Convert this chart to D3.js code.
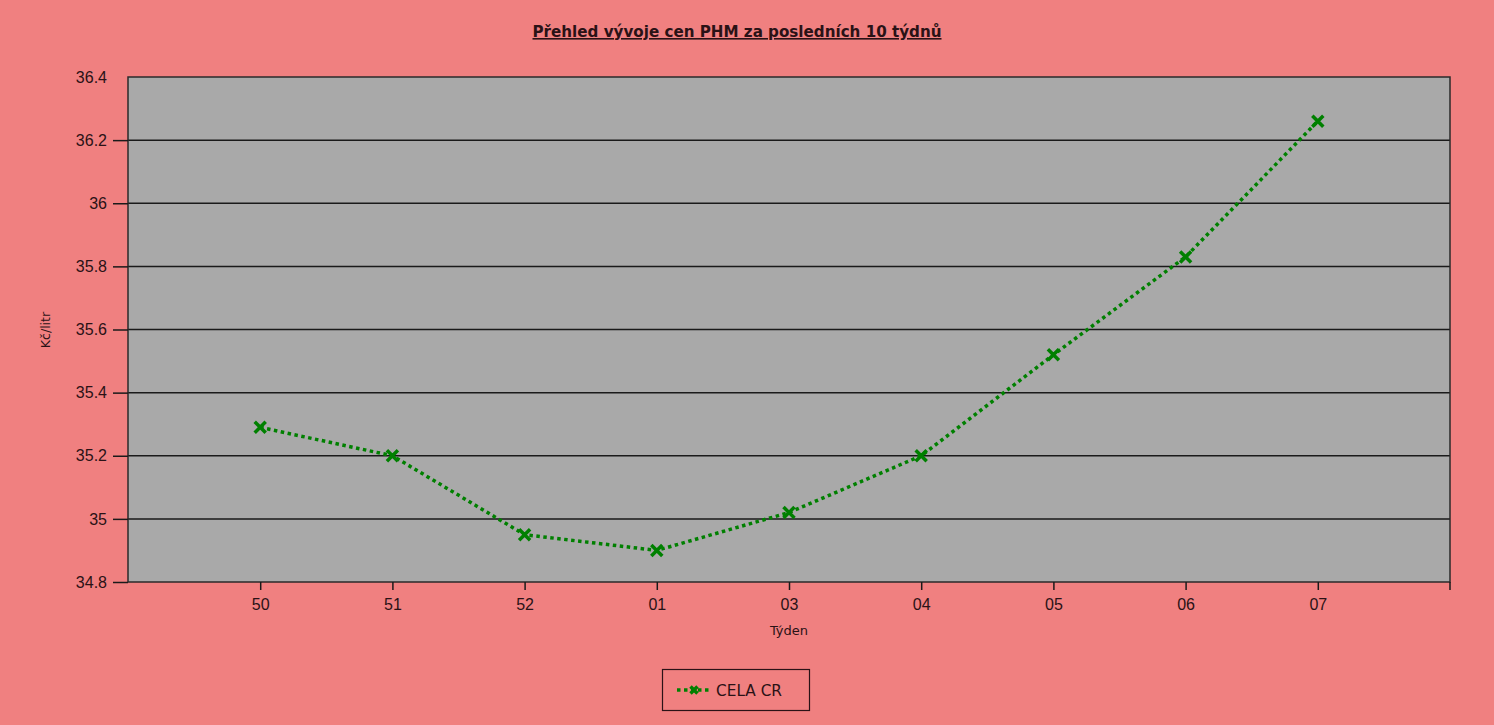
<!DOCTYPE html>
<html><head><meta charset="utf-8">
<script src="https://cdn.jsdelivr.net/npm/d3@7"></script>
<style>html,body{margin:0;padding:0;background:#F08080;overflow:hidden}</style>
</head><body>
<svg id="c" width="1494" height="725"></svg>
<script>
const weeks = ["50","51","52","01","03","04","05","06","07"];
const prices = [35.29, 35.20, 34.95, 34.90, 35.02, 35.20, 35.52, 35.83, 36.26];
const yTicks = [34.8, 35, 35.2, 35.4, 35.6, 35.8, 36, 36.2, 36.4];
const yTickLabels = ["34.8","35","35.2","35.4","35.6","35.8","36","36.2","36.4"];
const seriesName = "CELA CR";
const titleText = "Přehled vývoje cen PHM za posledních 10 týdnů";
const xTitle = "Týden", yTitle = "Kč/litr";

const svg = d3.select("#c");
const L = 128, R = 1450, T = 77, B = 582;
const txt = "#2a1216";
const x = d3.scalePoint().domain(weeks).range([L, R]).padding(1);
const y = d3.scaleLinear().domain([34.8, 36.4]).range([B, T]);

svg.append("rect").attr("width",1494).attr("height",725).attr("fill","#F08080");
svg.append("rect").attr("x",L).attr("y",T).attr("width",R-L).attr("height",B-T).attr("fill","#A9A9A9");

// gridlines
svg.append("g").selectAll("line").data(yTicks.slice(1,-1)).join("line")
  .attr("x1",L).attr("x2",R).attr("y1",d=>y(d)).attr("y2",d=>y(d))
  .attr("stroke","#1a1a1a").attr("stroke-width",1.5);

// plot border
svg.append("rect").attr("x",L).attr("y",T).attr("width",R-L).attr("height",B-T)
  .attr("fill","none").attr("stroke","#2a2a2a").attr("stroke-width",1.5);

// y axis
const yAxis = d3.axisLeft(y).tickValues(yTicks).tickFormat((d,i)=>yTickLabels[i]).tickSize(15).tickPadding(6);
const gy = svg.append("g").attr("transform",`translate(${L},0)`).call(yAxis);
gy.select(".domain").remove();
gy.selectAll(".tick line").attr("stroke","#1a1a1a").attr("stroke-width",1.5);
gy.selectAll(".tick").filter(d=>d===36.4).select("line").remove();
gy.selectAll("text").attr("font-family","'Liberation Sans', Arial, sans-serif").attr("font-size",16).attr("fill",txt);

// x axis
const xAxis = d3.axisBottom(x).tickSize(8).tickPadding(9);
const gx = svg.append("g").attr("transform",`translate(0,${B})`).call(xAxis);
gx.select(".domain").remove();
gx.selectAll(".tick line").attr("stroke","#1a1a1a").attr("stroke-width",1.5);
gx.selectAll("text").attr("font-family","'Liberation Sans', Arial, sans-serif").attr("font-size",16).attr("fill",txt);
gx.append("line").attr("x1",R).attr("x2",R).attr("y1",0).attr("y2",8).attr("stroke","#1a1a1a").attr("stroke-width",1.5);

// title
svg.append("text").attr("x",737).attr("y",37).attr("text-anchor","middle")
  .attr("font-family","'DejaVu Sans', Verdana, sans-serif").attr("font-weight","bold")
  .attr("font-size",16).attr("fill",txt).attr("text-decoration","underline")
  .attr("textLength",409).attr("lengthAdjust","spacingAndGlyphs").text(titleText);

svg.append("text").attr("x",789).attr("y",635).attr("text-anchor","middle")
  .attr("font-family","'DejaVu Sans', Verdana, sans-serif").attr("font-size",13).attr("fill",txt).text(xTitle);
svg.append("text").attr("transform","translate(50,330) rotate(-90)").attr("text-anchor","middle")
  .attr("font-family","'DejaVu Sans', Verdana, sans-serif").attr("font-size",12.5).attr("fill",txt).text(yTitle);

// line
const green = "#008000";
const line = d3.line().x((d,i)=>x(weeks[i])).y(d=>y(d));
svg.append("path").datum(prices).attr("d",line).attr("fill","none")
  .attr("stroke",green).attr("stroke-width",3.5).attr("stroke-dasharray","3.5,3.5");

function cross(g, cx, cy, s){
  g.append("path").attr("d",`M${cx-s},${cy-s}L${cx+s},${cy+s}M${cx-s},${cy+s}L${cx+s},${cy-s}`)
   .attr("stroke",green).attr("stroke-width",3.5).attr("fill","none");
}
const mg = svg.append("g");
prices.forEach((p,i)=>cross(mg, x(weeks[i]), y(p), 5.5));

// legend
svg.append("rect").attr("x",662.5).attr("y",669.5).attr("width",147).attr("height",41)
  .attr("fill","none").attr("stroke","#2a1216").attr("stroke-width",1.2);
svg.append("line").attr("x1",677).attr("x2",711).attr("y1",690).attr("y2",690)
  .attr("stroke",green).attr("stroke-width",3.5).attr("stroke-dasharray","3.5,3.5");
cross(svg, 694, 690, 3.5);
svg.append("text").attr("x",716).attr("y",696)
  .attr("font-family","'DejaVu Sans', Verdana, sans-serif").attr("font-size",15.5).attr("fill",txt)
  .attr("textLength",66).attr("lengthAdjust","spacingAndGlyphs").text(seriesName);
</script>
</body></html>
